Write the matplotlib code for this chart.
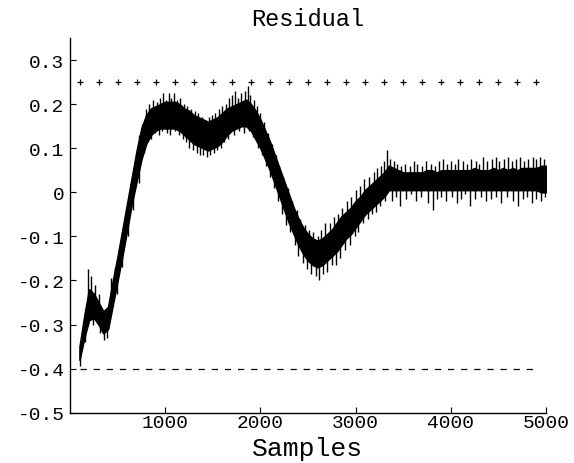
import matplotlib
matplotlib.use("Agg")
import matplotlib.pyplot as plt
import numpy as np

# Sample positions at which the dense band of the residual trace was read
samples = [100, 150, 200, 250, 300, 350, 400, 450, 500, 550,
           600, 650, 700, 750, 800, 850, 900, 950, 1000, 1050,
           1100, 1150, 1200, 1250, 1300, 1350, 1400, 1450, 1500, 1550,
           1600, 1650, 1700, 1750, 1800, 1850, 1900, 1950, 2000, 2050,
           2100, 2150, 2200, 2250, 2300, 2350, 2400, 2450, 2500, 2550,
           2600, 2650, 2700, 2750, 2800, 2850, 2900, 2950, 3000, 3050,
           3100, 3150, 3200, 3250, 3300, 3350, 3400, 3450, 3500, 3550,
           3600, 3650, 3700, 3750, 3800, 3850, 3900, 3950, 4000, 4050,
           4100, 4150, 4200, 4250, 4300, 4350, 4400, 4450, 4500, 4550,
           4600, 4650, 4700, 4750, 4800, 4850, 4900, 4950, 5000]

# Upper edge of the dense band
upper = [-0.35, -0.28, -0.22, -0.23, -0.25, -0.27, -0.26, -0.20, -0.145, -0.085,
         -0.025, 0.035, 0.095, 0.145, 0.175, 0.19, 0.195, 0.20, 0.205, 0.205,
         0.205, 0.20, 0.19, 0.185, 0.175, 0.17, 0.165, 0.16, 0.165, 0.17,
         0.18, 0.19, 0.195, 0.20, 0.205, 0.21, 0.20, 0.185, 0.165, 0.14,
         0.115, 0.085, 0.055, 0.025, -0.005, -0.035, -0.06, -0.08, -0.095, -0.105,
         -0.11, -0.105, -0.095, -0.085, -0.07, -0.055, -0.045, -0.035, -0.02, -0.01,
         0.005, 0.015, 0.025, 0.035, 0.045, 0.06, 0.055, 0.05, 0.045, 0.045,
         0.045, 0.045, 0.045, 0.05, 0.05, 0.045, 0.05, 0.05, 0.05, 0.05,
         0.05, 0.05, 0.05, 0.055, 0.05, 0.05, 0.05, 0.055, 0.05, 0.055,
         0.05, 0.055, 0.05, 0.055, 0.055, 0.055, 0.055, 0.06, 0.06]

# Lower edge of the dense band
lower = [-0.38, -0.33, -0.29, -0.285, -0.30, -0.32, -0.31, -0.255, -0.20, -0.145,
         -0.085, -0.025, 0.025, 0.075, 0.11, 0.13, 0.14, 0.145, 0.145, 0.145,
         0.145, 0.14, 0.13, 0.12, 0.11, 0.105, 0.10, 0.095, 0.10, 0.105,
         0.115, 0.13, 0.14, 0.145, 0.15, 0.15, 0.14, 0.12, 0.10, 0.075,
         0.05, 0.02, -0.01, -0.04, -0.07, -0.095, -0.12, -0.14, -0.155, -0.165,
         -0.17, -0.165, -0.155, -0.145, -0.135, -0.12, -0.105, -0.095, -0.08, -0.065,
         -0.05, -0.04, -0.03, -0.02, -0.01, 0.005, 0.005, 0.005, 0.005, 0.005,
         0.005, 0.005, 0.005, 0.005, 0.005, 0.005, 0.005, 0.005, 0.005, 0.005,
         0.005, 0.005, 0.005, 0.005, 0.005, 0.005, 0.005, 0.005, 0.005, 0.005,
         0.005, 0.005, 0.005, 0.005, 0.005, 0.005, 0.005, 0.0, 0.0]

# Upward noise spikes: sample and tip value
up_samples = [185, 225, 265, 300, 430, 470,
              520, 575, 640, 700, 730, 760, 800,
              835, 870, 910, 945, 975, 1010, 1035, 1065, 1095, 1125,
              1160, 1195, 1230, 1270, 1310, 1345, 1385, 1420, 1455, 1490,
              1525, 1560, 1600, 1635, 1670, 1700, 1735, 1765, 1800, 1840,
              1865, 1895, 1930, 1965, 2000, 2040,
              2080, 2120, 2160, 2200, 2240, 2290, 2330, 2380, 2420, 2470,
              2510, 2550, 2600, 2640, 2680, 2730, 2770, 2810, 2860, 2910,
              2950, 3000, 3050, 3090, 3140, 3190, 3230, 3270, 3300, 3330, 3360,
              3400, 3440, 3480, 3520, 3570, 3610, 3650, 3700, 3740, 3790,
              3830, 3880, 3920, 3960, 4000, 4040, 4080, 4130, 4170, 4210,
              4260, 4300, 4340, 4380, 4430, 4470, 4510, 4560, 4600, 4640,
              4690, 4730, 4770, 4810, 4860, 4900, 4940, 4980]
up_tips = [-0.175, -0.19, -0.21, -0.23, -0.195, -0.17,
           -0.12, -0.06, 0.02, 0.08, 0.13, 0.155, 0.19,
           0.20, 0.21, 0.205, 0.215, 0.225, 0.21, 0.225, 0.215, 0.225, 0.21,
           0.215, 0.20, 0.195, 0.19, 0.185, 0.18, 0.17, 0.165, 0.17, 0.175,
           0.18, 0.19, 0.195, 0.20, 0.215, 0.22, 0.23, 0.215, 0.225, 0.23,
           0.24, 0.22, 0.21, 0.195, 0.18, 0.16,
           0.135, 0.11, 0.085, 0.06, 0.035, 0.01, -0.02, -0.04, -0.06, -0.075,
           -0.085, -0.09, -0.10, -0.085, -0.07, -0.07, -0.055, -0.05, -0.035, -0.02,
           -0.01, 0.005, 0.015, 0.03, 0.035, 0.045, 0.055, 0.06, 0.07, 0.095, 0.075,
           0.07, 0.065, 0.06, 0.065, 0.06, 0.07, 0.065, 0.06, 0.07, 0.065,
           0.06, 0.07, 0.075, 0.065, 0.07, 0.065, 0.075, 0.07, 0.065, 0.075,
           0.07, 0.065, 0.08, 0.07, 0.075, 0.08, 0.07, 0.075, 0.08, 0.07,
           0.075, 0.08, 0.07, 0.075, 0.08, 0.075, 0.08, 0.075]

# Downward noise spikes: sample and tip value
down_samples = [105, 160, 245, 320, 355, 390,
                490, 545, 605, 665, 720, 780,
                850, 890, 930, 970, 1020, 1055, 1105, 1150, 1185, 1220,
                1255, 1290, 1330, 1370, 1400, 1440, 1475, 1510, 1545, 1585,
                1620, 1660, 1720, 1780, 1830, 1880, 1920, 1980, 2020,
                2060, 2100, 2140, 2190, 2230, 2270, 2310, 2360, 2400, 2450,
                2490, 2530, 2580, 2620, 2660, 2700, 2750, 2790, 2840, 2890,
                2940, 2990, 3030, 3080, 3130, 3170, 3210, 3260, 3310,
                3380, 3420, 3470, 3530, 3580, 3630, 3690, 3760, 3810, 3850,
                3900, 3950, 4010, 4060, 4110, 4150, 4200, 4250, 4320, 4370,
                4420, 4480, 4530, 4590, 4650, 4710, 4760, 4800, 4850, 4890,
                4950, 4990]
down_tips = [-0.395, -0.34, -0.30, -0.32, -0.335, -0.33,
             -0.23, -0.17, -0.10, -0.04, 0.02, 0.09,
             0.12, 0.135, 0.13, 0.14, 0.135, 0.13, 0.14, 0.13, 0.12, 0.115,
             0.10, 0.095, 0.09, 0.085, 0.085, 0.08, 0.085, 0.09, 0.095, 0.10,
             0.115, 0.12, 0.13, 0.14, 0.135, 0.14, 0.125, 0.10, 0.085,
             0.06, 0.035, 0.01, -0.02, -0.05, -0.075, -0.09, -0.12, -0.145, -0.16,
             -0.175, -0.185, -0.19, -0.20, -0.185, -0.18, -0.165, -0.165, -0.15, -0.13,
             -0.12, -0.10, -0.09, -0.07, -0.06, -0.05, -0.045, -0.03, -0.02,
             -0.02, -0.01, -0.03, -0.015, -0.005, -0.02, -0.01, -0.025, -0.04, -0.015,
             -0.01, -0.02, -0.01, -0.025, -0.015, -0.005, -0.03, -0.015, -0.01, -0.02,
             -0.015, -0.01, -0.025, -0.01, -0.02, -0.03, -0.015, -0.01, -0.025, -0.015,
             -0.02, -0.01]

# Reference levels
marker_samples = [100, 300, 500, 700, 900, 1100, 1300, 1500, 1700, 1900,
                  2100, 2300, 2500, 2700, 2900, 3100, 3300, 3500, 3700, 3900,
                  4100, 4300, 4500, 4700, 4900]
upper_limit = 0.25
lower_limit = -0.4
dash_range = [100, 4900]

yticks = [-0.5, -0.4, -0.3, -0.2, -0.1, 0.0, 0.1, 0.2, 0.3]
ytick_labels = ["-0.5", "-0.4", "-0.3", "-0.2", "-0.1", "0", "0.1", "0.2", "0.3"]
xticks = [1000, 2000, 3000, 4000, 5000]
xtick_labels = ["1000", "2000", "3000", "4000", "5000"]

font = ["Liberation Mono", "DejaVu Sans Mono"]
plt.rcParams["font.family"] = font

fig = plt.figure(figsize=(5.74, 4.64), dpi=100)
ax = fig.add_axes([70 / 574, 1 - 413.7 / 464, 476 / 574, (413.7 - 39) / 464])

ax.fill_between(samples, lower, upper, facecolor="black", edgecolor="black",
                linewidth=1.2)
# spikes start from inside the band (hidden part) and reach their read tip
band_mid = (np.array(lower) + np.array(upper)) / 2
ax.vlines(up_samples, np.interp(up_samples, samples, band_mid), up_tips,
          color="black", linewidth=1.0)
ax.vlines(down_samples, down_tips, np.interp(down_samples, samples, band_mid),
          color="black", linewidth=1.0)
ax.plot(marker_samples, [upper_limit] * len(marker_samples), linestyle="none",
        marker="+", markersize=5, markeredgewidth=0.9, color="black")
ax.plot(dash_range, [lower_limit] * len(dash_range), color="black",
        linewidth=0.9, dashes=(5.0, 5.5))

ax.set_xlim(0, 5000)
ax.set_ylim(-0.5, 0.35)
ax.set_yticks(yticks)
ax.set_yticklabels(ytick_labels)
ax.set_xticks(xticks)
ax.set_xticklabels(xtick_labels)

for s in ["top", "right"]:
    ax.spines[s].set_visible(False)
for s in ["left", "bottom"]:
    ax.spines[s].set_linewidth(1.0)

ax.tick_params(direction="in", length=4, width=0.8, labelsize=14, pad=4)
ax.tick_params(axis="x", pad=1)

ax.set_title("Residual", fontsize=17, pad=9)
ax.set_xlabel("Samples", fontsize=19)
ax.xaxis.set_label_coords(0.5, -0.063)

fig.savefig("out.png", dpi=100)
